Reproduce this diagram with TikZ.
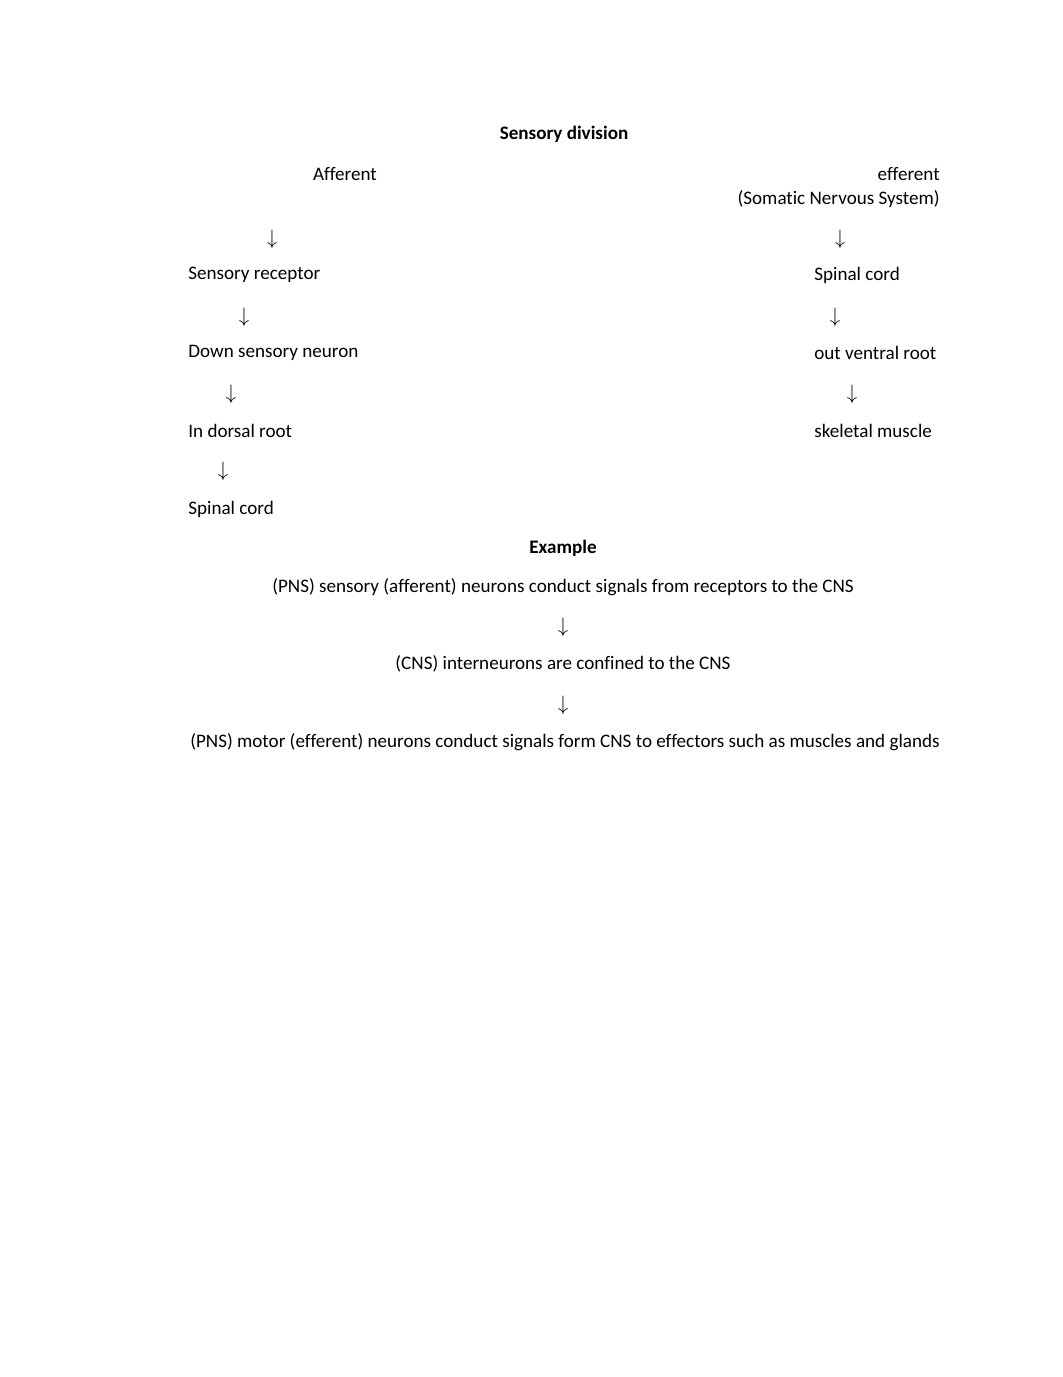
\documentclass[tikz,border=0pt]{standalone}
\usepackage{fontspec}
\setmainfont{Carlito}[Ligatures=NoCommon]
\usepackage{amsmath}
\usepackage{tikz}

\begin{document}
\begin{tikzpicture}[x=0.576pt,y=-0.576pt,
    font=\fontsize{11pt}{13pt}\selectfont,
    every node/.style={inner sep=0pt,yshift=-1.2pt},
    head/.style={font=\fontsize{11pt}{13pt}\selectfont\bfseries},
    lft/.style={anchor=west},
    rgt/.style={anchor=east},
    down/.style={font=\fontsize{12.5pt}{13pt}\selectfont}]
  \useasboundingbox (0,0) rectangle (1062,1377);
  % title and the two branches
  \node[head] (title) at (564,132) {Sensory division};
  \node (aff) at (345,172) {Afferent};
  \node[rgt] (eff) at (940,172) {efferent};
  \node[rgt] (som) at (940,197) {(Somatic Nervous System)};
  % afferent side
  \node[down] (a0) at (272,237) {$\downarrow$};
  \node[lft] (a1) at (188,273) {Sensory receptor};
  \node[down] (a2) at (244,315) {$\downarrow$};
  \node[lft] (a3) at (188,351) {Down sensory neuron};
  \node[down] (a4) at (231,392) {$\downarrow$};
  \node[lft] (a5) at (188,429) {In dorsal root};
  \node[down] (a6) at (223,469) {$\downarrow$};
  \node[lft] (a7) at (188,507) {Spinal cord};
  % efferent side
  \node[down] (e0) at (840,237) {$\downarrow$};
  \node[lft] (e1) at (814,273) {Spinal cord};
  \node[down] (e2) at (835,315) {$\downarrow$};
  \node[lft] (e3) at (814,351) {out ventral root};
  \node[down] (e4) at (852,392) {$\downarrow$};
  \node[lft] (e5) at (814,429) {skeletal muscle};
  % example chain
  \node[head] (ex) at (563,546) {Example};
  \node (x1) at (563,585) {(PNS) sensory (afferent) neurons conduct signals from receptors to the CNS};
  \node[down] (x2) at (563,625) {$\downarrow$};
  \node (x3) at (563,662) {(CNS) interneurons are confined to the CNS};
  \node[down] (x4) at (563,703) {$\downarrow$};
  \node (x5) at (565,740) {(PNS) motor (efferent) neurons conduct signals form CNS to effectors such as muscles and glands};
\end{tikzpicture}
\end{document}
